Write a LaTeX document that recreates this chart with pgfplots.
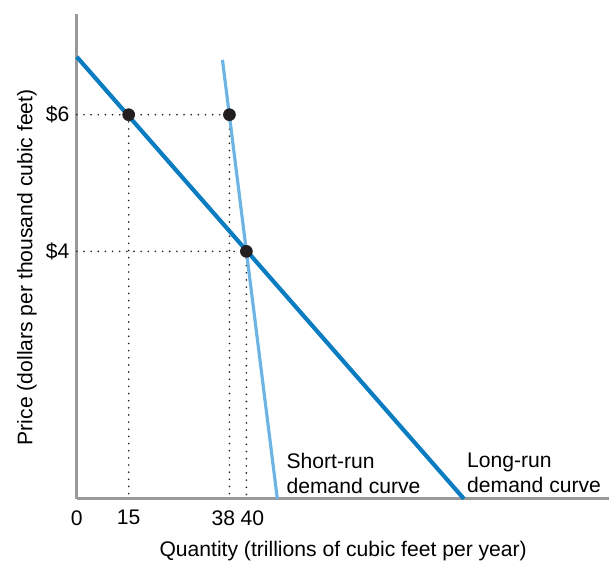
\documentclass[border=0pt]{standalone}
\usepackage{pgfplots}
\pgfplotsset{compat=1.18}
\usepackage{fontspec}
\setmainfont{Liberation Sans}
\definecolor{longrun}{HTML}{0A7CC1}
\definecolor{shortrun}{HTML}{6CB4E4}
\definecolor{axisgray}{HTML}{9A9A9A}
\definecolor{dotblack}{HTML}{231F20}
\begin{document}
\begin{tikzpicture}
\begin{axis}[
    x=0.6pt, y=0.6pt,
    xmin=0, xmax=533, ymin=0, ymax=486,
    axis lines=left,
    axis line style={-, axisgray, line width=1.8pt},
    clip=false,
    xtick={0,52,147,176},
    xticklabels={0,15,38,40},
    ytick={248,385},
    yticklabels={\$4,\$6},
    major tick length=0pt,
    font=\fontsize{12.7}{15}\selectfont,
    /pgf/number format/assume math mode=true,
    xticklabel style={yshift=-3.5pt},
    yticklabel style={xshift=-1pt},
    xlabel={Quantity (trillions of cubic feet per year)},
    ylabel={Price (dollars per thousand cubic feet)},
    xlabel style={at={(axis cs:267,-52)}, anchor=center},
    ylabel style={at={(axis cs:-50,232)}, anchor=center},
    guide/.style={dotblack, line width=1.1pt, line cap=round, dash pattern=on 0pt off 4.3pt},
]
% dotted guide lines
\addplot[guide] coordinates {(0,385)(153,385)};
\addplot[guide] coordinates {(0,248)(170,248)};
\addplot[guide] coordinates {(52,385)(52,0)};
\addplot[guide] coordinates {(153,385)(153,0)};
\addplot[guide] coordinates {(170,248)(170,0)};
% demand curves
\addplot[shortrun, line width=1.9pt] coordinates {(146,440)(201,0)};
\addplot[longrun, line width=2.5pt] coordinates {(0,443)(388,0)};
% points
\addplot[only marks, mark=*, mark size=3.6pt, dotblack] coordinates {(52,385)(153,385)(170,248)};
\node[anchor=north west, align=left, inner sep=0pt, font=\fontsize{12.7}{15}\selectfont] at (axis cs:210,46) {Short-run\\demand curve};
\node[anchor=north west, align=left, inner sep=0pt, font=\fontsize{12.7}{15}\selectfont] at (axis cs:391,46) {Long-run\\demand curve};
\coordinate (bl) at (axis cs:-77,-65);
\coordinate (tr) at (axis cs:533,500);
\end{axis}
\path (bl) rectangle (tr);
\end{tikzpicture}
\end{document}
